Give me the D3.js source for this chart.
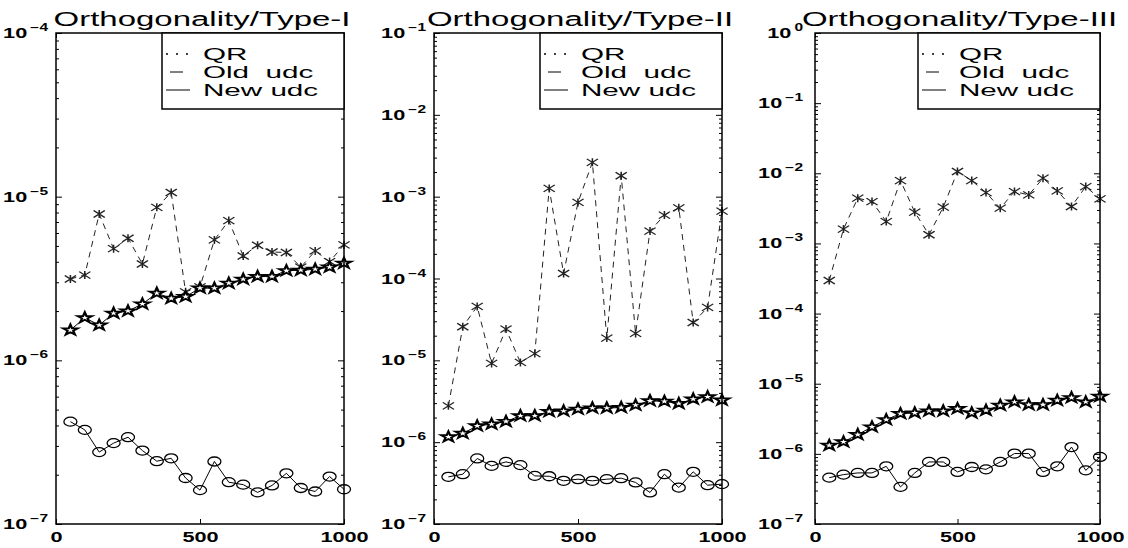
<!DOCTYPE html>
<html>
<head>
<meta charset="utf-8">
<script src="https://cdn.jsdelivr.net/npm/d3@7"></script>
<style>
  body { margin: 0; background: #fff; }
  svg { display: block; }
  text { font-family: "Liberation Sans", Arial, Helvetica, sans-serif; fill: #000; }
</style>
</head>
<body>
<svg id="chart" width="1128" height="548"></svg>
<script>
// matrix sizes (x axis)
const sizes = [50, 100, 150, 200, 250, 300, 350, 400, 450, 500,
               550, 600, 650, 700, 750, 800, 850, 900, 950, 1000];

const titles = ["Orthogonality/Type-I", "Orthogonality/Type-II", "Orthogonality/Type-III"];
const legendLabels = ["QR", "Old  udc", "New udc"];
const xTicks = [0, 500, 1000];
const yTopExp = [-4, -1, 0];   // top decade of each panel
const yBottomExp = -7;

// Type-I
const qr1  = [4.22e-7, 3.76e-7, 2.75e-7, 3.12e-7, 3.39e-7, 2.81e-7, 2.42e-7, 2.52e-7, 1.91e-7, 1.61e-7,
              2.41e-7, 1.80e-7, 1.74e-7, 1.56e-7, 1.72e-7, 2.04e-7, 1.66e-7, 1.58e-7, 1.95e-7, 1.63e-7];
const old1 = [3.14e-6, 3.32e-6, 7.84e-6, 4.81e-6, 5.57e-6, 3.88e-6, 8.61e-6, 1.06e-5, 2.62e-6, 2.81e-6,
              5.44e-6, 7.14e-6, 4.34e-6, 5.05e-6, 4.59e-6, 4.56e-6, 3.71e-6, 4.66e-6, 4.01e-6, 5.07e-6];
const new1 = [1.53e-6, 1.82e-6, 1.64e-6, 1.94e-6, 2.00e-6, 2.21e-6, 2.57e-6, 2.39e-6, 2.45e-6, 2.76e-6,
              2.76e-6, 2.96e-6, 3.13e-6, 3.25e-6, 3.25e-6, 3.53e-6, 3.55e-6, 3.60e-6, 3.71e-6, 3.92e-6];

// Type-II
const qr2  = [3.77e-7, 4.06e-7, 6.32e-7, 5.13e-7, 5.74e-7, 5.24e-7, 3.87e-7, 3.83e-7, 3.37e-7, 3.53e-7,
              3.37e-7, 3.53e-7, 3.63e-7, 3.22e-7, 2.43e-7, 4.06e-7, 2.79e-7, 4.34e-7, 2.98e-7, 3.07e-7];
const old2 = [2.78e-6, 2.57e-5, 4.56e-5, 9.16e-6, 2.41e-5, 9.42e-6, 1.21e-5, 1.26e-3, 1.15e-4, 8.5e-4,
              2.63e-3, 1.87e-5, 1.80e-3, 2.13e-5, 3.8e-4, 5.96e-4, 7.31e-4, 2.9e-5, 4.43e-5, 6.67e-4];
const new2 = [1.16e-6, 1.28e-6, 1.58e-6, 1.66e-6, 1.79e-6, 2.10e-6, 2.10e-6, 2.37e-6, 2.40e-6, 2.53e-6,
              2.61e-6, 2.61e-6, 2.65e-6, 2.83e-6, 3.20e-6, 3.15e-6, 2.97e-6, 3.36e-6, 3.58e-6, 3.26e-6];

// Type-III
const qr3  = [4.58e-7, 5.06e-7, 5.35e-7, 5.35e-7, 6.64e-7, 3.38e-7, 5.35e-7, 7.67e-7, 7.67e-7, 5.52e-7,
              6.5e-7, 6.01e-7, 7.67e-7, 1.01e-6, 1.01e-6, 5.52e-7, 6.64e-7, 1.25e-6, 5.82e-7, 9.04e-7];
const old3 = [2.96e-4, 1.6e-3, 4.42e-3, 3.95e-3, 2.05e-3, 7.87e-3, 2.79e-3, 1.33e-3, 3.29e-3, 1.06e-2,
              7.87e-3, 5.31e-3, 3.18e-3, 5.48e-3, 4.92e-3, 8.51e-3, 5.61e-3, 3.36e-3, 6.47e-3, 4.32e-3];
const new3 = [1.32e-6, 1.48e-6, 1.88e-6, 2.42e-6, 3.07e-6, 3.74e-6, 3.83e-6, 4.08e-6, 4.08e-6, 4.41e-6,
              3.83e-6, 4.17e-6, 4.91e-6, 5.48e-6, 5.02e-6, 5.02e-6, 5.78e-6, 6.32e-6, 5.48e-6, 6.59e-6];

const panelSeries = [[qr1, old1, new1], [qr2, old2, new2], [qr3, old3, new3]];

// layout (the scanned figure is stretched horizontally, hence the x-scaled text/markers)
const lefts = [56, 434, 815];
const widths = [288, 288, 285];
const labelGap = [8, 8, 12];
const plotTop = 33, plotBottom = 524;
const SX_TICK = 1.55, SX_TITLE = 1.65, SX_LEGEND = 1.85, SX_MARK = 1.4;

const svg = d3.select("#chart");

const starPath = d3.symbol().type(d3.symbolStar).size(34)();
const asteriskPath = "M-4,-3.5L4,3.5M-4,3.5L4,-3.5M0,-4L0,4";

// style per series: QR, Old udc, New udc
const lineDash = [null, "6,5", null];
const legendDash = ["2,8", null, null];

panelSeries.forEach((series, i) => {
    const x = d3.scaleLinear().domain([0, 1000]).range([lefts[i], lefts[i] + widths[i]]);
    const y = d3.scaleLog()
        .domain([Math.pow(10, yBottomExp), Math.pow(10, yTopExp[i])])
        .range([plotBottom, plotTop]);
    const [x0, x1] = x.range();

    const g = svg.append("g");

    // title
    g.append("text")
        .attr("transform", `translate(${(x0 + x1) / 2 + 2},26) scale(${SX_TITLE},1)`)
        .attr("text-anchor", "middle")
        .style("font-size", "20px")
        .text(titles[i]);

    // y ticks (major + minor), inward on both sides
    const allTicks = y.ticks();
    const isMajor = v => Math.abs(Math.log10(v) - Math.round(Math.log10(v))) < 1e-9;
    const major = allTicks.filter(isMajor);
    const minor = allTicks.filter(v => !isMajor(v));

    const axes = [
        [d3.axisLeft(y).tickValues(minor).tickSize(-3), x0],
        [d3.axisLeft(y).tickValues(major).tickSize(-6), x0],
        [d3.axisRight(y).tickValues(minor).tickSize(-3), x1],
        [d3.axisRight(y).tickValues(major).tickSize(-6), x1]
    ];
    axes.forEach(([ax, px]) => {
        const a = g.append("g").attr("transform", `translate(${px},0)`)
            .call(ax.tickFormat(""));
        a.select(".domain").remove();
        a.selectAll("line").attr("stroke", "#000");
    });

    // y labels 10^k
    g.append("g").selectAll("text")
        .data(major)
        .join("text")
        .attr("transform", d => `translate(${x0 - labelGap[i]},${y(d) + 5}) scale(${SX_TICK},1)`)
        .attr("text-anchor", "end")
        .style("font-size", "14px")
        .style("font-weight", "bold")
        .each(function (d) {
            const e = Math.round(Math.log10(d));
            const t = d3.select(this);
            t.append("tspan").text("10");
            t.append("tspan")
                .attr("dx", 2)
                .attr("dy", -7)
                .style("font-size", "10px")
                .text(e === 0 ? "0" : "\u2212" + Math.abs(e));
        });

    // x axes
    const xb = g.append("g").attr("transform", `translate(0,${plotBottom})`)
        .call(d3.axisBottom(x).tickValues(xTicks).tickSize(-5).tickPadding(8).tickFormat(d3.format("d")));
    xb.select(".domain").remove();
    xb.selectAll("line").attr("stroke", "#000");
    xb.selectAll("text")
        .attr("transform", `scale(${SX_TICK},1)`)
        .style("font-size", "14px")
        .style("font-weight", "bold")
        .style("font-family", "'Liberation Sans', Arial, sans-serif")
        .attr("fill", "#000");

    const xt = g.append("g").attr("transform", `translate(0,${plotTop})`)
        .call(d3.axisTop(x).tickValues(xTicks).tickSize(-5).tickFormat(""));
    xt.select(".domain").remove();
    xt.selectAll("line").attr("stroke", "#000");

    // lines
    const line = d3.line().x((d, j) => x(sizes[j])).y(d => y(d));
    series.forEach((vals, s) => {
        g.append("path")
            .datum(vals)
            .attr("fill", "none")
            .attr("stroke", s === 1 ? "#222" : "#000")
            .attr("stroke-width", 1)
            .attr("stroke-dasharray", lineDash[s])
            .attr("d", line);
    });

    // markers
    g.append("g").selectAll("ellipse")
        .data(series[0])
        .join("ellipse")
        .attr("cx", (d, j) => x(sizes[j]))
        .attr("cy", d => y(d))
        .attr("rx", 6.5).attr("ry", 4.5)
        .attr("fill", "none")
        .attr("stroke", "#000")
        .attr("stroke-width", 1.3);

    g.append("g").selectAll("path")
        .data(series[1])
        .join("path")
        .attr("transform", (d, j) => `translate(${x(sizes[j])},${y(d)}) scale(${SX_MARK},1)`)
        .attr("d", asteriskPath)
        .attr("fill", "none")
        .attr("stroke", "#222")
        .attr("stroke-width", 1.1);

    g.append("g").selectAll("path")
        .data(series[2])
        .join("path")
        .attr("transform", (d, j) => `translate(${x(sizes[j])},${y(d)}) scale(${SX_MARK},1)`)
        .attr("d", starPath)
        .attr("fill", "#fff")
        .attr("stroke", "#000")
        .attr("stroke-width", 1.7);

    // frame
    g.append("rect")
        .attr("x", x0).attr("y", plotTop)
        .attr("width", widths[i]).attr("height", plotBottom - plotTop)
        .attr("fill", "none")
        .attr("stroke", "#000")
        .attr("stroke-width", 1.5);

    // legend
    const lg = g.append("g").attr("transform", `translate(${x1 - 182},${plotTop})`);
    lg.append("rect")
        .attr("width", 182).attr("height", 76)
        .attr("fill", "#fff")
        .attr("stroke", "#000")
        .attr("stroke-width", 1.5);
    legendLabels.forEach((lab, s) => {
        const baseline = 27 + s * 18;
        lg.append("line")
            .attr("x1", s === 1 ? 8 : 4).attr("x2", s === 1 ? 21 : 28)
            .attr("y1", baseline - 6).attr("y2", baseline - 6)
            .attr("stroke", "#000")
            .attr("stroke-width", s === 0 ? 1.6 : 1)
            .attr("stroke-dasharray", legendDash[s]);
        lg.append("text")
            .attr("transform", `translate(41,${baseline}) scale(${SX_LEGEND},1)`)
            .style("font-size", "16px")
            .style("white-space", "pre")
            .text(lab);
    });
});
</script>
</body>
</html>
